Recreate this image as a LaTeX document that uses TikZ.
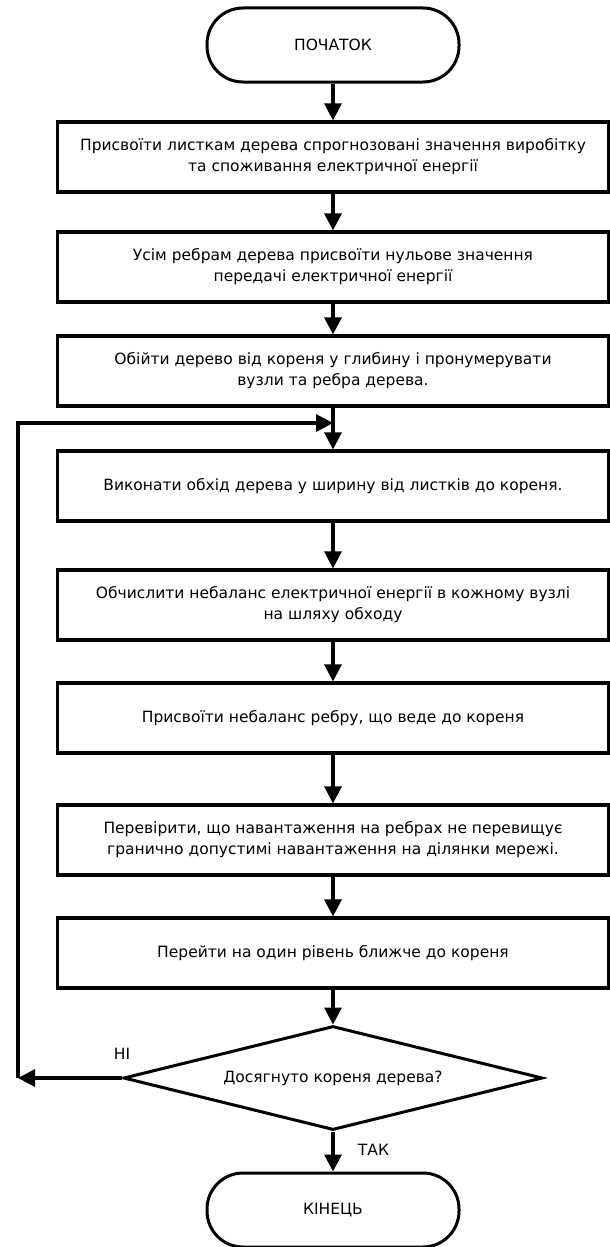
\documentclass[tikz,border=0pt]{standalone}
\usepackage{fontspec}
\setmainfont{DejaVu Sans}
\usetikzlibrary{shapes.geometric,arrows.meta}

\tikzset{
	block/.style = {draw, line width = 3.2pt, minimum width = 551pt, minimum height = 70pt, inner sep = 0pt, align = center, font = \fontsize{15.5}{21}\selectfont},
	terminal/.style = {draw, line width = 3pt, rounded corners = 36pt, minimum width = 252pt, minimum height = 74pt, inner sep = 0pt, font = \fontsize{15.5}{21}\selectfont},
	decision/.style = {draw, diamond, line width = 3pt, aspect = 4, minimum width = 419pt, minimum height = 104pt, inner sep = 0pt, font = \fontsize{15.5}{21}\selectfont},
	flow/.style = {line width = 3.2pt, -{Triangle[length = 17pt, width = 17pt]}},
	answer/.style = {font = \fontsize{15.5}{21}\selectfont}
}

\begin{document}
\begin{tikzpicture}[x = 1pt, y = -1pt]
	%	page setup
	\useasboundingbox (0, 0) rectangle (610, 1247);
	
	\def\cx{333}
	\def\xloop{18}
	
	%	blocks
	\node[terminal] (start) at (\cx, 45) {ПОЧАТОК};
	\node[block] (leaves) at (\cx, 157) {Присвоїти листкам дерева спрогнозовані значення виробітку\\та споживання електричної енергії};
	\node[block] (edges) at (\cx, 267) {Усім ребрам дерева присвоїти нульове значення\\передачі електричної енергії};
	\node[block] (depth) at (\cx, 371) {Обійти дерево від кореня у глибину і пронумерувати\\вузли та ребра дерева.};
	\node[block] (breadth) at (\cx, 486) {Виконати обхід дерева у ширину від листків до кореня.};
	\node[block] (balance) at (\cx, 605) {Обчислити небаланс електричної енергії в кожному вузлі\\на шляху обходу};
	\node[block] (assign) at (\cx, 718) {Присвоїти небаланс ребру, що веде до кореня};
	\node[block] (check) at (\cx, 840) {Перевірити, що навантаження на ребрах не перевищує\\гранично допустимі навантаження на ділянки мережі.};
	\node[block] (up) at (\cx, 953) {Перейти на один рівень ближче до кореня};
	\node[decision] (root) at (\cx, 1078) {Досягнуто кореня дерева?};
	\node[terminal] (stop) at (\cx, 1210) {КІНЕЦЬ};
	
	%	loop points
	\coordinate (join) at (\cx, 423);
	\coordinate (back) at (\xloop, 1078);
	
	%	arrows
	\draw[flow] (start) -- (leaves);
	\draw[flow] (leaves) -- (edges);
	\draw[flow] (edges) -- (depth);
	\draw[flow] (depth) -- (breadth);
	\draw[flow] (breadth) -- (balance);
	\draw[flow] (balance) -- (assign);
	\draw[flow] (assign) -- (check);
	\draw[flow] (check) -- (up);
	\draw[flow] (up) -- (root);
	\draw[flow] (root) -- node[answer, right = 20pt, pos = 0.45]{ТАК} (stop);
	\draw[flow] (root.west) -- (back);
	\draw[flow] (back) |- (join);
	\node[answer] (no) at ([yshift = 24pt]root.west) {НІ};
\end{tikzpicture}
\end{document}
